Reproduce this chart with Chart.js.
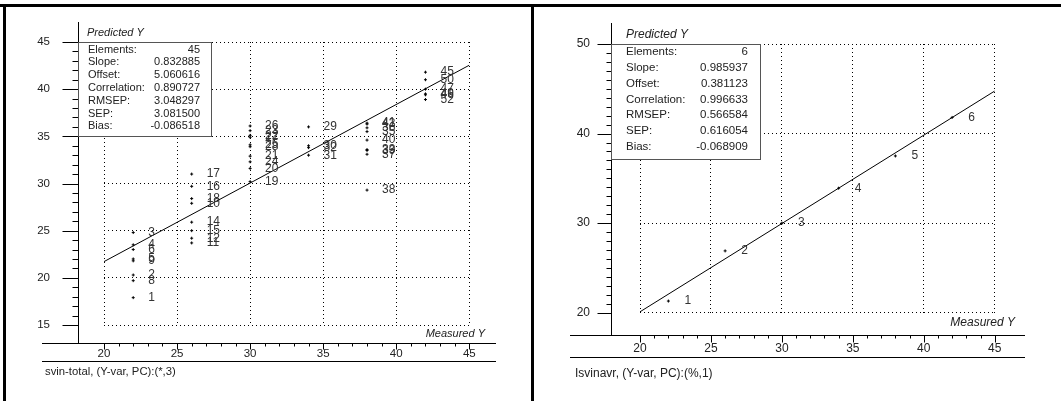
<!DOCTYPE html>
<html>
<head>
<meta charset="utf-8">
<script src="https://cdn.jsdelivr.net/npm/chart.js@4.4.1/dist/chart.umd.min.js"></script>
<style>
  body { margin: 0; background: #fff; }
  #wrap { position: relative; width: 1061px; height: 401px; overflow: hidden; background: #fff; }
  canvas { position: absolute; top: 0; }
  .bar { position: absolute; background: #000; }
</style>
</head>
<body>
<div id="wrap">
  <canvas id="leftChart" width="531" height="401" style="left:0"></canvas>
  <canvas id="rightChart" width="527" height="401" style="left:534px"></canvas>
  <div class="bar" style="left:0;top:4px;width:1061px;height:3px"></div>
  <div class="bar" style="left:3px;top:4px;width:3px;height:397px"></div>
  <div class="bar" style="left:531px;top:4px;width:3px;height:397px"></div>
</div>
<script>
// svin-total, PC 3
var leftIds = ['1', '2', '3', '4', '5', '6', '8', '9',
  '10', '11', '12', '14', '15', '16', '17', '18',
  '19', '20', '21', '22', '23', '24', '25', '26', '27', '28',
  '29', '30', '31', '32',
  '33', '35', '36', '37', '38', '39', '40', '41', '43',
  '45', '47', '46', '49', '50', '52'];
var leftMeasured = [22, 22, 22, 22, 22, 22, 22, 22,
  26, 26, 26, 26, 26, 26, 26, 26,
  30, 30, 30, 30, 30, 30, 30, 30, 30, 30,
  34, 34, 34, 34,
  38, 38, 38, 38, 38, 38, 38, 38, 38,
  42, 42, 42, 42, 42, 42];
var leftPredicted = [17.9, 20.3, 24.8, 23.5, 22.0, 23.0, 19.7, 21.8,
  27.9, 23.7, 24.2, 25.9, 25.0, 29.7, 31.0, 28.4,
  30.2, 31.6, 32.9, 35.1, 35.6, 32.3, 34.1, 36.1, 34.9, 33.9,
  36.0, 34.0, 33.0, 33.8,
  33.6, 35.5, 35.9, 33.1, 29.3, 33.5, 34.6, 36.4, 36.3,
  41.8, 40.0, 39.4, 39.5, 41.0, 38.9];
var leftSlope = 0.832885;
var leftOffset = 5.060616;
var leftStats = ['45', '0.832885', '5.060616', '0.890727', '3.048297', '3.081500', '-0.086518'];

// Isvinavr, PC 1
var rightIds = ['1', '2', '3', '4', '5', '6'];
var rightMeasured = [22, 26, 30, 34, 38, 42];
var rightPredicted = [21.3, 26.9, 30.0, 33.9, 37.5, 41.8];
var rightSlope = 0.985937;
var rightOffset = 0.381123;
var rightStats = ['6', '0.985937', '0.381123', '0.996633', '0.566584', '0.616054', '-0.068909'];

var statNames = ['Elements:', 'Slope:', 'Offset:', 'Correlation:', 'RMSEP:', 'SEP:', 'Bias:'];
var xTicksFrom = 20, xTicksTo = 45;

var FONT = '"Liberation Sans", Arial, sans-serif';

// axes, captions, stats box and sample numbers drawn around the plot area
function plotDecor(s, ids, stats) {
  return {
    id: 'plotDecor',
    afterDatasetsDraw: function (chart) {
      var ctx = chart.ctx;
      var meta = chart.getDatasetMeta(0);
      ctx.save();
      ctx.fillStyle = '#333';
      ctx.font = s.labelFont + 'px ' + FONT;
      ctx.textAlign = 'left';
      ctx.textBaseline = 'middle';
      meta.data.forEach(function (pt, i) {
        ctx.fillText(ids[i], pt.x + s.labelDx, pt.y);
      });
      ctx.restore();
    },
    afterDraw: function (chart) {
      var ctx = chart.ctx;
      var xs = chart.scales.x, ys = chart.scales.y;
      var area = chart.chartArea;
      var ax = s.axisX + 0.5, ay = s.axisY + 0.5;
      var v, p, len;
      ctx.save();
      ctx.strokeStyle = '#000';
      ctx.lineWidth = 1;
      ctx.beginPath();
      ctx.moveTo(ax, s.axisTop);
      ctx.lineTo(ax, ay);
      ctx.moveTo(s.ruleLeft, ay);
      ctx.lineTo(s.ruleRight, ay);
      ctx.moveTo(s.ruleLeft, s.ruleBottom + 0.5);
      ctx.lineTo(s.ruleRight, s.ruleBottom + 0.5);
      for (v = ys.min; v <= ys.max; v++) {
        p = Math.round(ys.getPixelForValue(v)) + 0.5;
        len = v % s.yMajor === 0 ? s.yMajorLen : s.yMinorLen;
        ctx.moveTo(ax - len, p);
        ctx.lineTo(ax, p);
      }
      for (v = xs.min; v <= xs.max; v++) {
        p = Math.round(xs.getPixelForValue(v)) + 0.5;
        len = v % 5 === 0 ? s.xMajorLen : s.xMinorLen;
        ctx.moveTo(p, ay);
        ctx.lineTo(p, ay + len);
      }
      ctx.stroke();

      // statistics box
      var top = Math.round(area.top) + 0.5;
      ctx.fillStyle = '#fff';
      ctx.fillRect(ax, top, s.boxRight - ax, s.boxBottom - top);
      ctx.strokeStyle = '#555';
      ctx.strokeRect(ax, top, s.boxRight - ax, s.boxBottom - top);
      ctx.fillStyle = '#222';
      ctx.font = s.statFont + 'px ' + FONT;
      ctx.textBaseline = 'middle';
      statNames.forEach(function (name, i) {
        var y = s.statFirst + i * s.statStep;
        ctx.textAlign = 'left';
        ctx.fillText(name, s.statLeft, y);
        ctx.textAlign = 'right';
        ctx.fillText(stats[i], s.statRight, y);
      });

      // axis titles and caption
      ctx.font = 'italic ' + s.titleFont + 'px ' + FONT;
      ctx.textAlign = 'left';
      ctx.fillText('Predicted Y', s.predX, s.predY);
      ctx.textAlign = 'right';
      ctx.fillText('Measured Y', s.measRight, s.measY);
      ctx.font = s.captionFont + 'px ' + FONT;
      ctx.textAlign = 'left';
      ctx.fillText(s.caption, s.captionX, s.captionY);
      ctx.restore();
    }
  };
}

function makeChart(canvasId, measured, predicted, slope, offset, yMin, yMax, yStep, s, ids, stats) {
  var points = measured.map(function (m, i) { return { x: m, y: predicted[i] }; });
  var fit = [
    { x: xTicksFrom, y: slope * xTicksFrom + offset },
    { x: xTicksTo, y: slope * xTicksTo + offset }
  ];
  return new Chart(document.getElementById(canvasId).getContext('2d'), {
    type: 'scatter',
    data: {
      datasets: [{
        data: points,
        pointStyle: 'cross',
        pointRadius: 1.5,
        borderColor: '#000',
        borderWidth: 1
      }, {
        type: 'line',
        data: fit,
        borderColor: '#000',
        borderWidth: 1,
        pointRadius: 0,
        fill: false
      }]
    },
    options: {
      responsive: false,
      animation: false,
      layout: { padding: { left: 0, top: s.padTop, right: s.padRight, bottom: 0 } },
      plugins: { legend: { display: false }, tooltip: { enabled: false } },
      scales: {
        x: {
          type: 'linear', min: xTicksFrom, max: xTicksTo,
          ticks: { stepSize: 5, padding: s.xTickPad, color: '#222', font: { family: FONT, size: s.tickFont } },
          grid: { color: '#000', lineWidth: 1, drawTicks: false },
          border: { display: false, dash: [1, 3] },
          afterFit: function (scale) {
            scale.height = s.xHeight;
            scale.paddingLeft = 0;
            scale.paddingRight = 0;
          }
        },
        y: {
          type: 'linear', min: yMin, max: yMax,
          ticks: { stepSize: yStep, padding: s.yTickPad, color: '#222', font: { family: FONT, size: s.tickFont } },
          grid: { color: '#000', lineWidth: 1, drawTicks: false },
          border: { display: false, dash: [1, 3] },
          afterFit: function (scale) {
            // keep the wide label gap from pushing the plot area down
            scale.width = s.yWidth;
            scale.paddingTop = 0;
            scale.paddingBottom = 0;
          }
        }
      }
    },
    plugins: [plotDecor(s, ids, stats)]
  });
}

var leftChart = makeChart('leftChart', leftMeasured, leftPredicted, leftSlope, leftOffset, 15, 45, 5, {
  padTop: 42, padRight: 61.7, yWidth: 104, xHeight: 76,
  xTickPad: 22, yTickPad: 54, tickFont: 11.5,
  axisX: 78, axisY: 343, axisTop: 22, ruleLeft: 42, ruleRight: 496, ruleBottom: 361,
  yMajor: 5, yMajorLen: 16, yMinorLen: 6, xMajorLen: 6, xMinorLen: 3,
  boxRight: 211.5, boxBottom: 136.5, statFont: 11, statLeft: 88, statRight: 200, statFirst: 49.5, statStep: 12.8,
  titleFont: 11, predX: 87, predY: 33, measRight: 485, measY: 334,
  captionFont: 11.3, caption: 'svin-total, (Y-var, PC):(*,3)', captionX: 45, captionY: 372,
  labelFont: 12, labelDx: 15
}, leftIds, leftStats);

var rightChart = makeChart('rightChart', rightMeasured, rightPredicted, rightSlope, rightOffset, 20, 50, 10, {
  padTop: 44, padRight: 66.3, yWidth: 106, xHeight: 88.3,
  xTickPad: 28.5, yTickPad: 50, tickFont: 12,
  axisX: 77, axisY: 335, axisTop: 23, ruleLeft: 36, ruleRight: 491, ruleBottom: 357,
  yMajor: 10, yMajorLen: 14, yMinorLen: 5, xMajorLen: 7, xMinorLen: 3,
  boxRight: 226.5, boxBottom: 159.5, statFont: 11.5, statLeft: 92, statRight: 214, statFirst: 52, statStep: 15.8,
  titleFont: 12, predX: 92, predY: 35, measRight: 481, measY: 323,
  captionFont: 12, caption: 'Isvinavr, (Y-var, PC):(%,1)', captionX: 41, captionY: 374,
  labelFont: 12, labelDx: 16
}, rightIds, rightStats);
</script>
</body>
</html>
